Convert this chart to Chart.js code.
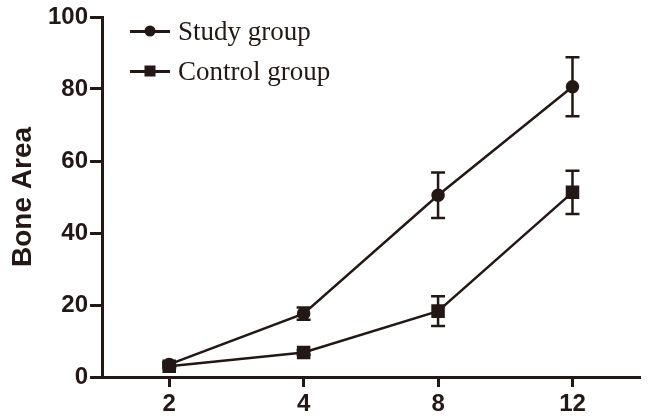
<!DOCTYPE html>
<html>
<head>
<meta charset="utf-8">
<script src="https://cdn.jsdelivr.net/npm/chart.js@4"></script>
<style>
  html, body { margin: 0; padding: 0; background: #fff; }
  #wrap { position: relative; width: 650px; height: 420px; }
  .legend-row { position: absolute; left: 130px; height: 30px; display: flex; align-items: center;
    font-family: "Liberation Serif", "Times New Roman", serif; font-size: 27px; color: #231815; }
  .sample { position: relative; width: 40px; height: 3px; background: #231815; margin-right: 8px; }
  .sample i { position: absolute; left: 50%; top: 50%; background: #231815; transform: translate(-50%, -50%); }
  .sample i.dot { width: 11px; height: 11px; border-radius: 50%; }
  .sample i.sq { width: 11px; height: 11px; }
</style>
</head>
<body>
<div id="wrap">
  <canvas id="c" width="650" height="420"></canvas>
  <div class="legend-row" style="top:16px"><span class="sample"><i class="dot"></i></span>Study group</div>
  <div class="legend-row" style="top:56px"><span class="sample"><i class="sq"></i></span>Control group</div>
</div>
<script>
// weeks after surgery
const weeks = ['2', '4', '8', '12'];
const studyMean = [3.5, 17.6, 50.5, 80.6];
const studyErr = [0.6, 1.7, 6.3, 8.2];
const controlMean = [3.0, 6.8, 18.3, 51.3];
const controlErr = [0.5, 0.6, 4.1, 6.0];
const yTicks = [0, 20, 40, 60, 80, 100];

const ink = '#231815';

// draws mean +/- error whiskers using the chart's own scales
const errorBars = {
    id: 'errorBars',
    afterDatasetsDraw(chart) {
        const ctx = chart.ctx;
        const y = chart.scales.y;
        chart.data.datasets.forEach((ds, i) => {
            const meta = chart.getDatasetMeta(i);
            ctx.save();
            ctx.strokeStyle = ink;
            ctx.lineWidth = 2.5;
            meta.data.forEach((pt, j) => {
                const e = ds.errors[j];
                const top = y.getPixelForValue(ds.data[j] + e);
                const bot = y.getPixelForValue(ds.data[j] - e);
                ctx.beginPath();
                ctx.moveTo(pt.x, top); ctx.lineTo(pt.x, bot);
                ctx.moveTo(pt.x - 7, top); ctx.lineTo(pt.x + 7, top);
                ctx.moveTo(pt.x - 7, bot); ctx.lineTo(pt.x + 7, bot);
                ctx.stroke();
            });
            ctx.restore();
        });
    }
};

new Chart(document.getElementById('c'), {
    type: 'line',
    data: {
        labels: weeks,
        datasets: [
            { label: 'Study group', data: studyMean, errors: studyErr, borderColor: ink, backgroundColor: ink,
              borderWidth: 2.5, pointStyle: 'circle', pointRadius: 5.5, tension: 0 },
            { label: 'Control group', data: controlMean, errors: controlErr, borderColor: ink, backgroundColor: ink,
              borderWidth: 2.5, pointStyle: 'rect', pointRadius: 7.8, tension: 0 }
        ]
    },
    options: {
        responsive: false,
        animation: false,
        layout: { padding: { top: 17, right: 9, left: 0, bottom: 0 } },
        plugins: { legend: { display: false }, tooltip: { enabled: false } },
        scales: {
            x: {
                offset: true,
                grid: { drawOnChartArea: false, offset: false, tickLength: 10, color: ink, lineWidth: 3 },
                border: { display: true, color: ink, width: 3 },
                ticks: { color: ink, padding: 3, font: { family: 'Liberation Sans', size: 24, weight: 'bold' } },
                afterFit(s) { s.height = 43; }
            },
            y: {
                min: 0, max: 100,
                afterBuildTicks(s) { s.ticks = yTicks.map(v => ({ value: v })); },
                grid: { drawOnChartArea: false, tickLength: 12, color: ink, lineWidth: 3 },
                border: { display: true, color: ink, width: 3 },
                ticks: { color: ink, padding: 2, font: { family: 'Liberation Sans', size: 24, weight: 'bold' } },
                title: { display: true, text: 'Bone Area', color: ink, padding: { top: 6, bottom: 0 },
                         font: { family: 'Liberation Sans', size: 28, weight: 'bold' } },
                afterFit(s) { s.width = 102; }
            }
        }
    },
    plugins: [errorBars]
});
</script>
</body>
</html>
